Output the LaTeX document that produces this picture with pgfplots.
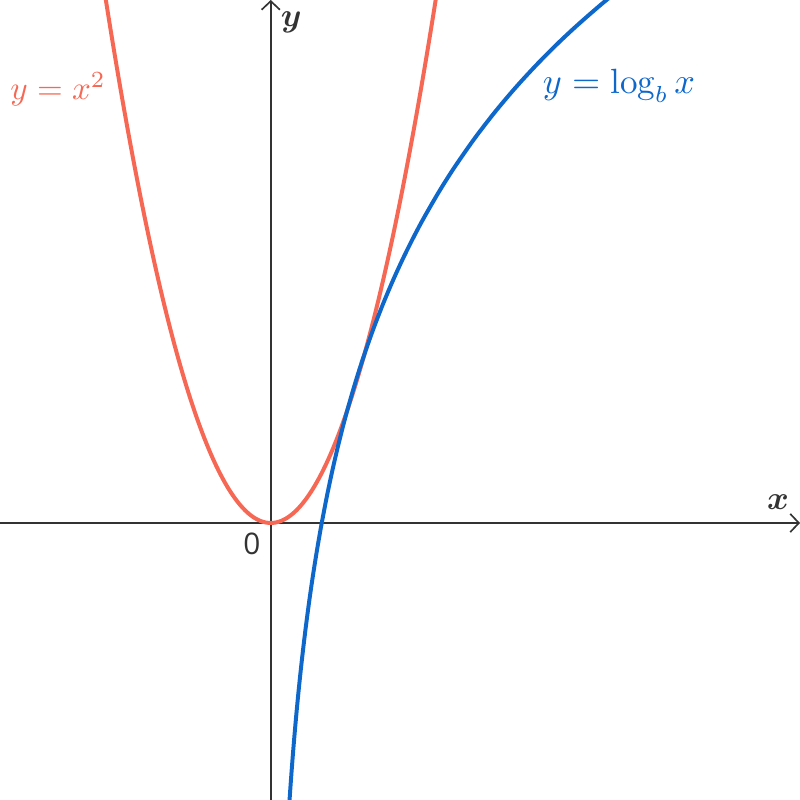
\documentclass[border=0pt]{standalone}
\usepackage{pgfplots}
\pgfplotsset{compat=1.18}
\usepackage{bm}
\usepackage{fontspec}
\newfontfamily\zerofont{Open Sans}
\usetikzlibrary{arrows.meta}
\definecolor{parab}{RGB}{247,104,84}
\definecolor{logc}{RGB}{14,104,204}
\definecolor{axc}{RGB}{51,51,51}
\begin{document}
\begin{tikzpicture}
\begin{axis}[scale only axis, width=8.5cm, height=8.5cm,
  xmin=-5.31, xmax=10.38, ymin=-5.54, ymax=10.46,
  axis lines=middle,
  axis line style={axc, line width=0.5pt, -{Straight Barb[length=2.6pt,width=5.5pt]}},
  xtick=\empty, ytick=\empty, clip=true]
\addplot[parab, line width=1.2pt, smooth] coordinates {
(-3.4,11.56)(-3.3,10.89)(-3.2,10.24)(-3.1,9.61)(-3.0,9)(-2.9,8.41)(-2.8,7.84)(-2.7,7.29)(-2.6,6.76)(-2.5,6.25)(-2.4,5.76)(-2.3,5.29)(-2.2,4.84)(-2.1,4.41)(-2.0,4)(-1.9,3.61)(-1.8,3.24)(-1.7,2.89)(-1.6,2.56)(-1.5,2.25)(-1.4,1.96)(-1.3,1.69)(-1.2,1.44)(-1.1,1.21)(-1.0,1)(-0.9,0.81)(-0.8,0.64)(-0.7,0.49)(-0.6,0.36)(-0.5,0.25)(-0.4,0.16)(-0.3,0.09)(-0.2,0.04)(-0.1,0.01)(0,0)
(0.1,0.01)(0.2,0.04)(0.3,0.09)(0.4,0.16)(0.5,0.25)(0.6,0.36)(0.7,0.49)(0.8,0.64)(0.9,0.81)(1.0,1)(1.1,1.21)(1.2,1.44)(1.3,1.69)(1.4,1.96)(1.5,2.25)(1.6,2.56)(1.7,2.89)(1.8,3.24)(1.9,3.61)(2.0,4)(2.1,4.41)(2.2,4.84)(2.3,5.29)(2.4,5.76)(2.5,6.25)(2.6,6.76)(2.7,7.29)(2.8,7.84)(2.9,8.41)(3.0,9)(3.1,9.61)(3.2,10.24)(3.3,10.89)(3.4,11.56)};
\addplot[logc, line width=1.2pt, smooth] coordinates {
(0.34,-5.987)(0.36,-5.670)(0.38,-5.370)(0.40,-5.085)(0.43,-4.684)(0.46,-4.310)(0.50,-3.847)(0.55,-3.318)(0.60,-2.835)(0.65,-2.391)(0.70,-1.980)(0.75,-1.597)(0.80,-1.238)(0.85,-0.902)(0.90,-0.585)(0.95,-0.285)(1.00,0)(1.1,0.529)(1.2,1.012)(1.3,1.456)(1.4,1.868)(1.5,2.250)(1.65,2.779)(1.8,3.262)(2.0,3.847)(2.2,4.376)(2.4,4.859)(2.6,5.303)(2.8,5.714)(3.0,6.097)(3.3,6.626)(3.6,7.109)(4.0,7.694)(4.4,8.223)(4.8,8.706)(5.2,9.150)(5.6,9.562)(6.0,9.944)(6.5,10.388)(7.0,10.800)};
\node[text=parab, font=\fontsize{10.3}{12}\selectfont] at (axis cs:-4.17,8.68) {$y = x^2$};
\node[text=logc, font=\fontsize{10.6}{12}\selectfont] at (axis cs:6.83,8.74) {$y = \log_b x$};
\node[text=axc] at (axis cs:9.95,0.42) {$\bm{x}$};
\node[text=axc] at (axis cs:0.4,10.02) {$\bm{y}$};
\node[text=axc] at (axis cs:-0.37,-0.42) {\zerofont\fontsize{9}{10}\selectfont 0};
\coordinate (ll) at (rel axis cs:0,0);
\coordinate (ur) at (rel axis cs:1,1);
\end{axis}
\pgfresetboundingbox
\useasboundingbox (ll) rectangle (ur);
\end{tikzpicture}
\end{document}
